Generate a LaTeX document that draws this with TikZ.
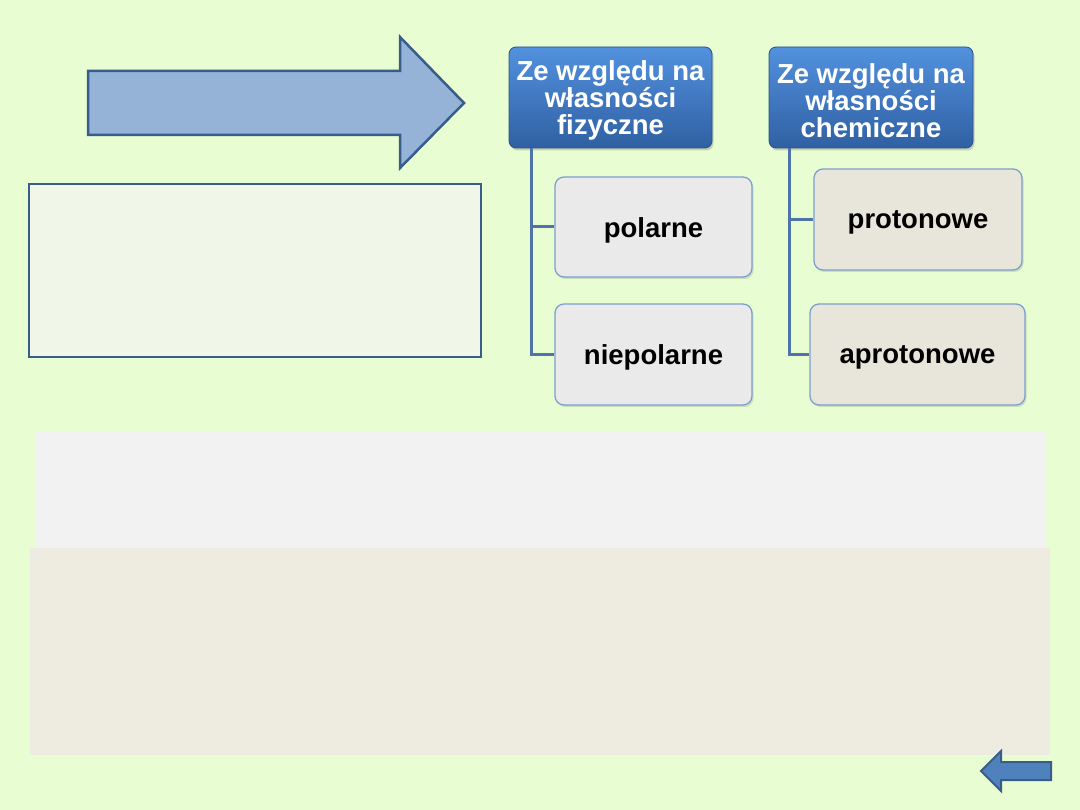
\documentclass[tikz,border=0pt]{standalone}
\usepackage{fontspec}
\setmainfont{Liberation Sans}
\usetikzlibrary{shadows}
\definecolor{bg}{RGB}{233,253,211}
\definecolor{arrowfill}{RGB}{149,179,215}
\definecolor{darkblue}{RGB}{56,93,138}
\definecolor{panel}{RGB}{240,247,232}
\definecolor{linecol}{RGB}{78,116,170}
\definecolor{graybox}{RGB}{234,234,234}
\definecolor{tanbox}{RGB}{232,230,218}
\definecolor{boxedge}{RGB}{123,160,205}
\definecolor{topblue}{RGB}{82,145,222}
\definecolor{botblue}{RGB}{48,96,163}
\definecolor{lightgray}{RGB}{242,242,242}
\definecolor{tan}{RGB}{238,236,225}
\definecolor{smallarrow}{RGB}{79,129,189}
\newcommand{\lowtext}[1]{\raisebox{-3pt}[\height][\depth]{#1}}
\tikzset{
  headbox/.style={draw=botblue!85!black, line width=0.8pt, rounded corners=7pt,
    top color=topblue, bottom color=botblue, text=white, align=center,
    font=\fontsize{27.5}{27}\selectfont\bfseries, inner sep=0pt,
    drop shadow={shadow xshift=1.5pt, shadow yshift=-2.5pt, opacity=0.35}},
  leafbox/.style={draw=boxedge, line width=1.3pt, rounded corners=9pt,
    font=\fontsize{27.5}{27.5}\selectfont\bfseries, inner sep=0pt, text=black,
    drop shadow={shadow xshift=1.5pt, shadow yshift=-2pt, opacity=0.25}},
  conn/.style={draw=linecol, line width=3pt},
}
\begin{document}
\begin{tikzpicture}[x=1pt,y=-1pt]
\useasboundingbox (0,0) rectangle (1080,810);
\fill[bg] (0,0) rectangle (1080,810);
% big arrow
\draw[fill=arrowfill, draw=darkblue, line width=2.5pt, line join=miter]
  (88,71) -- (400,71) -- (400,37) -- (464,103) -- (400,168) -- (400,135) -- (88,135) -- cycle;
% left panel
\draw[fill=panel, draw=darkblue, line width=1.3pt] (29,184) rectangle (481,357);
% bottom panels
\fill[lightgray] (35,432) rectangle (1045,548);
\fill[tan] (30,548) rectangle (1050,755);
% small arrow
\draw[fill=smallarrow, draw=darkblue, line width=2pt, line join=miter]
  (1051,762) -- (1001,762) -- (1001,751) -- (981,771) -- (1001,791) -- (1001,780) -- (1051,780) -- cycle;
% header boxes
\node[headbox, minimum width=203pt, minimum height=101pt] (fiz) at (610.5,97.5)
  {\lowtext{Ze względu na}\\\lowtext{własności}\\\lowtext{fizyczne}};
\node[headbox, minimum width=204pt, minimum height=101pt] (chem) at (871,97.5)
  {\lowtext{Ze względu na}\\\lowtext{własności}\\\lowtext{chemiczne}};
% leaf boxes
\node[leafbox, fill=graybox, minimum width=197pt, minimum height=100pt] (pol) at (653.5,227)
  {\lowtext{polarne}};
\node[leafbox, fill=graybox, minimum width=197pt, minimum height=101pt] (niepol) at (653.5,354.5)
  {\lowtext{niepolarne}};
\node[leafbox, fill=tanbox, minimum width=208pt, minimum height=101pt] (prot) at (918,219.5)
  {\lowtext{protonowe}};
\node[leafbox, fill=tanbox, minimum width=215pt, minimum height=101pt] (aprot) at (917.5,354.5)
  {\lowtext{aprotonowe}};
% connectors
\draw[conn] ([xshift=23pt]fiz.south west) |- (pol.west);
\draw[conn] ([xshift=23pt]fiz.south west) |- (niepol.west);
\draw[conn] ([xshift=21pt]chem.south west) |- (prot.west);
\draw[conn] ([xshift=21pt]chem.south west) |- (aprot.west);
\end{tikzpicture}
\end{document}
